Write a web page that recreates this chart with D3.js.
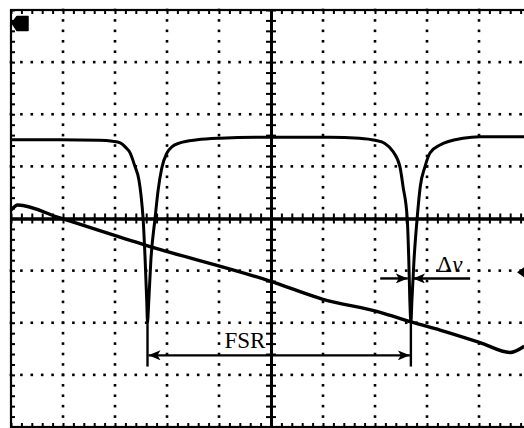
<!DOCTYPE html>
<html>
<head>
<meta charset="utf-8">
<script src="https://cdn.jsdelivr.net/npm/d3@7"></script>
<style>
  body { margin: 0; background: #fff; }
  svg { display: block; }
  .axis .domain { stroke: #000; }
  .axis line { stroke: #000; }
  .label { font-family: "Liberation Serif", "Times New Roman", serif; font-size: 23px; }
</style>
</head>
<body>
<svg class="scope" width="524" height="428"></svg>
<script>
// screen is 10 x 8 divisions, values below are in divisions
var divX = [0, 10], divY = [-4, 4];

// cavity transmission trace (two resonance dips)
var traceX = [0, 0.94, 1.7, 1.95, 2.1, 2.21, 2.29, 2.38, 2.46, 2.50, 2.54, 2.58, 2.61, 2.625,
  2.65, 2.69, 2.77, 2.83, 2.90, 3.0, 3.10, 3.25, 3.58, 4.02, 5.0, 6.13, 6.7, 7.0, 7.19, 7.35,
  7.48, 7.54, 7.62, 7.65, 7.67, 7.69, 7.71, 7.75, 7.81, 7.87, 7.96, 8.06, 8.25, 8.69, 9.02, 9.87];
var traceY = [1.51, 1.51, 1.50, 1.48, 1.45, 1.36, 1.26, 1.01, 0.74, 0.45, 0.0, -0.80, -1.57, -1.99,
  -1.57, -0.80, 0.0, 0.55, 0.97, 1.26, 1.38, 1.45, 1.51, 1.54, 1.56, 1.56, 1.54, 1.50, 1.44, 1.28,
  0.99, 0.61, 0.0, -0.80, -1.57, -1.99, -1.57, -0.80, 0.0, 0.61, 0.99, 1.26, 1.41, 1.54, 1.57, 1.57];

// laser frequency sweep ramp
var rampX = [0, 0.13, 0.94, 2.58, 4.98, 6.0, 7.10, 7.71, 8.25, 9.02, 9.6, 9.87];
var rampY = [0.16, 0.26, 0.01, -0.51, -1.20, -1.55, -1.80, -1.99, -2.14, -2.38, -2.57, -2.45];

// annotations
var fsrX = [2.625, 7.69], fsrY = -2.625, fsrExt = [-1.99, -2.84];
var fsrLabel = "FSR", fsrLabelX = 4.5, fsrLabelY = -2.49;
var dnuLeft = [7.10, 7.63], dnuRight = [8.83, 7.73], dnuY = -1.15;
var dnuLabelX = 8.44, dnuLabelY = -1.03;

var svg = d3.select('svg.scope');
var x = d3.scaleLinear().domain(divX).range([11, 531]);
var y = d3.scaleLinear().domain(divY).range([427, 10]);

var majorX = d3.range(1, 10), majorY = d3.range(-3, 4);
var minorX = d3.range(0, 50).map(function(i) { return i / 5; });
var minorY = d3.range(-20, 21).map(function(i) { return i / 5; });

// dotted graticule
var dots = svg.append("g");
majorX.filter(function(d) { return d !== 5; }).forEach(function(gx) {
  dots.selectAll(null).data(minorY).enter().append("rect")
    .attr("x", x(gx) - 1.3).attr("y", function(d) { return y(d) - 1.3; })
    .attr("width", 2.6).attr("height", 2.6).attr("fill", "#000");
});
majorY.filter(function(d) { return d !== 0; }).forEach(function(gy) {
  dots.selectAll(null).data(minorX).enter().append("rect")
    .attr("x", function(d) { return x(d) - 1.3; }).attr("y", y(gy) - 1.3)
    .attr("width", 2.6).attr("height", 2.6).attr("fill", "#000");
});

// frame with inward ticks
svg.append("rect").attr("x", x(0)).attr("y", y(4))
  .attr("width", x(10) - x(0)).attr("height", y(-4) - y(4))
  .attr("fill", "none").attr("stroke", "#000").attr("stroke-width", 2.2);
svg.append("g").attr("class", "axis").attr("transform", "translate(0," + y(4) + ")")
  .call(d3.axisBottom(x).tickValues(minorX).tickSize(4).tickSizeOuter(0).tickFormat(""))
  .selectAll("line").attr("stroke-width", 2);
svg.append("g").attr("class", "axis").attr("transform", "translate(0," + y(-4) + ")")
  .call(d3.axisTop(x).tickValues(minorX).tickSize(4).tickSizeOuter(0).tickFormat(""))
  .selectAll("line").attr("stroke-width", 2);
svg.append("g").attr("class", "axis").attr("transform", "translate(" + x(0) + ",0)")
  .call(d3.axisRight(y).tickValues(minorY).tickSize(4).tickSizeOuter(0).tickFormat(""))
  .selectAll("line").attr("stroke-width", 2);

// centre axes with crossing ticks
[d3.axisBottom, d3.axisTop].forEach(function(ax) {
  svg.append("g").attr("class", "axis").attr("transform", "translate(0," + y(0) + ")")
    .call(ax(x).tickValues(minorX).tickSize(5).tickSizeOuter(0).tickFormat(""))
    .call(function(g) {
      g.select(".domain").attr("stroke-width", 3);
      g.selectAll("line").attr("stroke-width", 2);
    });
});
[d3.axisLeft, d3.axisRight].forEach(function(ax) {
  svg.append("g").attr("class", "axis").attr("transform", "translate(" + x(5) + ",0)")
    .call(ax(y).tickValues(minorY).tickSize(5).tickSizeOuter(0).tickFormat(""))
    .call(function(g) {
      g.select(".domain").attr("stroke-width", 3);
      g.selectAll("line").attr("stroke-width", 2);
    });
});

// traces
var line = d3.line()
  .x(function(d) { return x(d[0]); })
  .y(function(d) { return y(d[1]); })
  .curve(d3.curveMonotoneX);

svg.append("path")
  .datum(d3.zip(traceX, traceY))
  .attr("d", line)
  .attr("fill", "none").attr("stroke", "#000").attr("stroke-width", 3)
  .attr("stroke-linejoin", "round");

svg.append("path")
  .datum(d3.zip(rampX, rampY))
  .attr("d", line)
  .attr("fill", "none").attr("stroke", "#000").attr("stroke-width", 3.4)
  .attr("stroke-linejoin", "round");

// arrow heads
svg.append("defs").append("marker")
  .attr("id", "head")
  .attr("viewBox", "0 0 12 10").attr("refX", 12).attr("refY", 5)
  .attr("markerUnits", "userSpaceOnUse")
  .attr("markerWidth", 12).attr("markerHeight", 10)
  .attr("orient", "auto-start-reverse")
  .append("path").attr("d", "M0,0 L12,5 L0,10 L3,5 Z").attr("fill", "#000");

var ann = svg.append("g").attr("stroke", "#000");

// FSR
fsrX.forEach(function(fx) {
  ann.append("line")
    .attr("x1", x(fx)).attr("x2", x(fx))
    .attr("y1", y(fsrExt[0])).attr("y2", y(fsrExt[1]))
    .attr("stroke-width", 2.4);
});
ann.append("line")
  .attr("x1", x(fsrX[0]) + 1).attr("x2", x(fsrX[1]) - 1)
  .attr("y1", y(fsrY)).attr("y2", y(fsrY))
  .attr("stroke-width", 2.4)
  .attr("marker-start", "url(#head)").attr("marker-end", "url(#head)");

// linewidth
ann.append("line")
  .attr("x1", x(dnuLeft[0])).attr("x2", x(dnuLeft[1]))
  .attr("y1", y(dnuY)).attr("y2", y(dnuY))
  .attr("stroke-width", 2.4).attr("marker-end", "url(#head)");
ann.append("line")
  .attr("x1", x(dnuRight[0])).attr("x2", x(dnuRight[1]))
  .attr("y1", y(dnuY)).attr("y2", y(dnuY))
  .attr("stroke-width", 2.4).attr("marker-end", "url(#head)");

svg.append("text")
  .attr("class", "label")
  .attr("x", x(fsrLabelX)).attr("y", y(fsrLabelY))
  .attr("text-anchor", "middle")
  .text(fsrLabel);

var dnu = svg.append("text")
  .attr("class", "label")
  .attr("x", x(dnuLabelX)).attr("y", y(dnuLabelY))
  .attr("text-anchor", "middle");
dnu.append("tspan").text("\u0394");
dnu.append("tspan").style("font-style", "italic").text("\u03bd");

// channel and trigger markers
svg.append("path")
  .attr("d", "M12,23 L17,16.5 L28,16.5 L28,30.5 L17,30.5 Z")
  .attr("fill", "#000").attr("stroke", "#000").attr("stroke-width", 1.5)
  .attr("stroke-linejoin", "round");
svg.append("path")
  .attr("d", "M517," + y(-1.03) + " L524," + (y(-1.03) - 5) + " L524," + (y(-1.03) + 5) + " Z")
  .attr("fill", "#000");
</script>
</body>
</html>
